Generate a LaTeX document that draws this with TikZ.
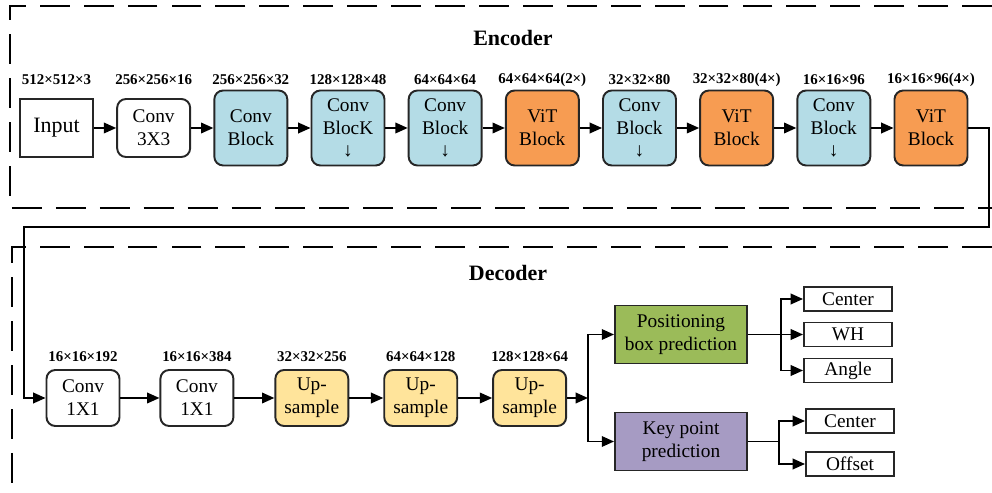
\documentclass[tikz,border=0pt]{standalone}
\usepackage{fontspec}
\setmainfont{Liberation Serif}
\usetikzlibrary{positioning, arrows.meta}

\definecolor{convblue}{HTML}{B4DCE6}
\definecolor{vitorange}{HTML}{F79C52}
\definecolor{upyellow}{HTML}{FFE49B}
\definecolor{posgreen}{HTML}{9BBB59}
\definecolor{keypurple}{HTML}{A69BC3}

\begin{document}
\begin{tikzpicture}[
        x=0.02cm, y=-0.02cm,
        node distance=0.445cm,
        plainbox/.style={draw=black!85, line width=1.1pt, align=center, inner sep=1pt, text=black, font=\fontsize{11}{13}\selectfont, minimum width=1.46cm, minimum height=1.16cm},
        roundbox/.style={plainbox, rounded corners=5pt},
        convblock/.style={roundbox, fill=convblue, minimum height=1.5cm},
        vitblock/.style={roundbox, fill=vitorange, minimum height=1.5cm},
        upblock/.style={roundbox, fill=upyellow, minimum height=1.12cm},
        headbox/.style={plainbox, minimum width=2.64cm, minimum height=1.16cm},
        outbox/.style={plainbox, minimum width=1.76cm, minimum height=0.48cm},
        dimlabel/.style={font=\bfseries\fontsize{8.5}{10}\selectfont, inner sep=0pt},
        parttitle/.style={font=\bfseries\fontsize{12.5}{15}\selectfont},
        dashframe/.style={line width=1.1pt, dash pattern=on 17pt off 8pt},
        arrow/.style={-{Stealth[inset=0pt, length=7pt, width=6pt]}, line width=1pt}
    ]

    \useasboundingbox (0,0) rectangle (992,493);

    % frames
    \draw[dashframe] (992,6) -- (10,6) -- (10,208) -- (992,208);
    \draw[dashframe] (992,247) -- (12,247) -- (12,493);

    % encoder
    \node[parttitle] (enc) at (513,38) {Encoder};
    \node[plainbox, font=\fontsize{12.5}{15}\selectfont] (in) at (56.5,128) {Input};
    \node[roundbox, right=of in] (c33) {Conv\\3X3};
    \node[convblock, right=of c33] (cb1) {Conv\\Block};
    \node[convblock, right=of cb1] (cb2) {Conv\\BlocK\\↓};
    \node[convblock, right=of cb2] (cb3) {Conv\\Block\\↓};
    \node[vitblock, right=of cb3] (vit1) {ViT\\Block};
    \node[convblock, right=of vit1] (cb4) {Conv\\Block\\↓};
    \node[vitblock, right=of cb4] (vit2) {ViT\\Block};
    \node[convblock, right=of vit2] (cb5) {Conv\\Block\\↓};
    \node[vitblock, right=of cb5] (vit3) {ViT\\Block};

    \node[dimlabel] (d1) at (in |- 0,80) {512×512×3};
    \node[dimlabel] (d2) at (c33 |- 0,80) {256×256×16};
    \node[dimlabel] (d3) at (cb1 |- 0,80) {256×256×32};
    \node[dimlabel] (d4) at (cb2 |- 0,80) {128×128×48};
    \node[dimlabel] (d5) at (cb3 |- 0,80) {64×64×64};
    \node[dimlabel] (d6) at (vit1 |- 0,80) {64×64×64(2×)};
    \node[dimlabel] (d7) at (cb4 |- 0,80) {32×32×80};
    \node[dimlabel] (d8) at (vit2 |- 0,80) {32×32×80(4×)};
    \node[dimlabel] (d9) at (cb5 |- 0,80) {16×16×96};
    \node[dimlabel] (d10) at (vit3 |- 0,80) {16×16×96(4×)};

    \draw[arrow] (in) -- (c33);
    \draw[arrow] (c33) -- (cb1);
    \draw[arrow] (cb1) -- (cb2);
    \draw[arrow] (cb2) -- (cb3);
    \draw[arrow] (cb3) -- (vit1);
    \draw[arrow] (vit1) -- (cb4);
    \draw[arrow] (cb4) -- (vit2);
    \draw[arrow] (vit2) -- (cb5);
    \draw[arrow] (cb5) -- (vit3);

    % decoder
    \node[parttitle] (dec) at (508,273) {Decoder};
    \node[roundbox, minimum height=1.12cm] (c11a) at (83,398) {Conv\\1X1};
    \node[roundbox, minimum height=1.12cm, right=0.78cm of c11a] (c11b) {Conv\\1X1};
    \node[upblock, right=0.8cm of c11b] (up1) {Up-\\sample};
    \node[upblock, right=0.68cm of up1] (up2) {Up-\\sample};
    \node[upblock, right=0.68cm of up2] (up3) {Up-\\sample};

    \node[dimlabel] (d11) at (c11a |- 0,357) {16×16×192};
    \node[dimlabel] (d12) at (c11b |- 0,357) {16×16×384};
    \node[dimlabel] (d13) at (up1 |- 0,357) {32×32×256};
    \node[dimlabel] (d14) at (up2 |- 0,357) {64×64×128};
    \node[dimlabel] (d15) at (up3 |- 0,357) {128×128×64};

    \node[headbox, fill=posgreen] (pos) at (681,334.5) {Positioning\\box prediction};
    \node[headbox, fill=keypurple] (key) at (681,441.5) {Key point\\prediction};

    \node[outbox] (ctr1) at (848,299) {Center};
    \node[outbox] (wh) at (848,334.5) {WH};
    \node[outbox] (ang) at (848,370.5) {Angle};
    \node[outbox] (ctr2) at (850,421) {Center};
    \node[outbox] (off) at (850,464) {Offset};

    % encoder to decoder
    \coordinate (turnR) at (989,227);
    \coordinate (turnL) at (24,227);
    \draw[arrow] (vit3.east) -| (turnR) -- (turnL) |- (c11a.west);

    \draw[arrow] (c11a) -- (c11b);
    \draw[arrow] (c11b) -- (up1);
    \draw[arrow] (up1) -- (up2);
    \draw[arrow] (up2) -- (up3);

    \coordinate (split) at (588,398);
    \draw[arrow] (up3) -- (split);
    \draw[arrow] (split) |- (pos.west);
    \draw[arrow] (split) |- (key.west);

    \coordinate (forkA) at (781,334.5);
    \draw[line width=1pt] (pos.east) -- (forkA);
    \draw[arrow] (forkA) |- (ctr1.west);
    \draw[arrow] (forkA) -- (wh.west);
    \draw[arrow] (forkA) |- (ang.west);

    \coordinate (forkB) at (779,441.5);
    \draw[line width=1pt] (key.east) -- (forkB);
    \draw[arrow] (forkB) |- (ctr2.west);
    \draw[arrow] (forkB) |- (off.west);

\end{tikzpicture}
\end{document}
